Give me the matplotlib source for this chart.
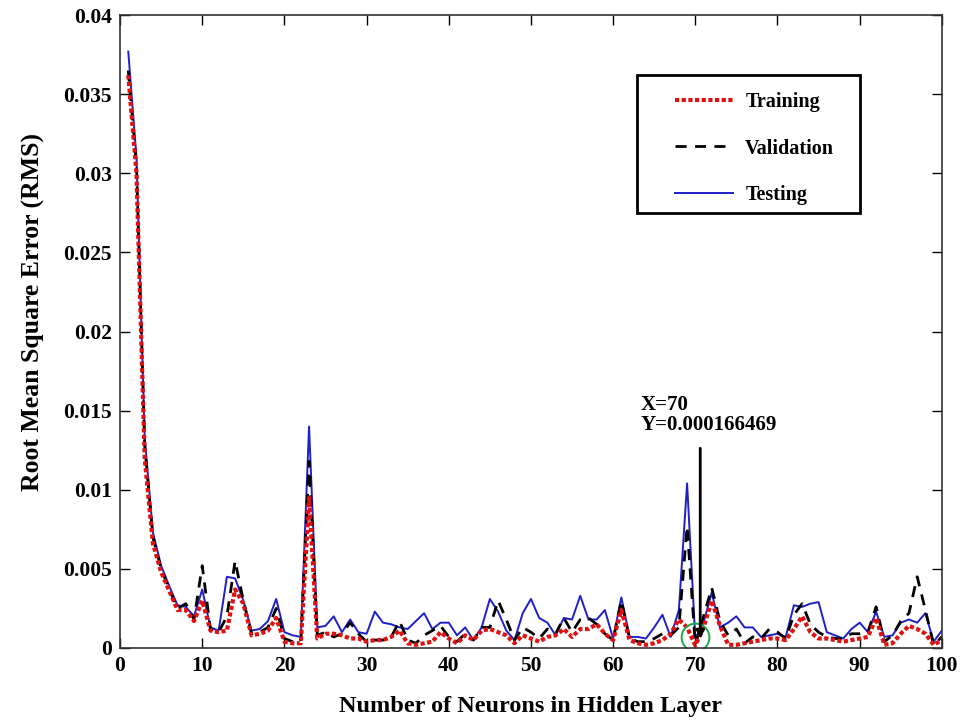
import matplotlib
matplotlib.use("Agg")
import matplotlib.pyplot as plt
from matplotlib.patches import Rectangle
import numpy as np

# RMS error vs number of hidden neurons
neurons = np.arange(1, 101)

testing = [
    0.0377, 0.0310, 0.0133, 0.0073, 0.0052, 0.0039, 0.0027, 0.0026, 0.0020, 0.0037,
    0.0013, 0.0011, 0.0045, 0.0044, 0.0030, 0.0011, 0.0012, 0.0017, 0.0031, 0.0010,
    0.0008, 0.0007, 0.0140, 0.0013, 0.0014, 0.0020, 0.0010, 0.0018, 0.0010, 0.0009,
    0.0023, 0.0016, 0.0015, 0.0013, 0.0012, 0.0017, 0.0022, 0.0012, 0.0016, 0.0016,
    0.0008, 0.0013, 0.0005, 0.0013, 0.0031, 0.0023, 0.0011, 0.0005, 0.0022, 0.0031,
    0.0019, 0.0016, 0.0008, 0.0019, 0.0018, 0.0033, 0.0018, 0.0018, 0.0024, 0.0006,
    0.0032, 0.0007, 0.0007, 0.0006, 0.0013, 0.0021, 0.0007, 0.0024, 0.0104, 0.0006,
    0.0016, 0.0035, 0.0013, 0.0016, 0.0020, 0.0013, 0.0013, 0.0007, 0.0008, 0.0009,
    0.0007, 0.0027, 0.0026, 0.0028, 0.0029, 0.0010, 0.0008, 0.0006, 0.0012, 0.0016,
    0.0010, 0.0023, 0.0007, 0.0008, 0.0016, 0.0018, 0.0016, 0.0022, 0.0004, 0.0011,
]

validation = [
    0.0365, 0.0305, 0.0128, 0.0070, 0.0050, 0.0037, 0.0025, 0.0028, 0.0018, 0.0052,
    0.0012, 0.0010, 0.0020, 0.0055, 0.0030, 0.0009, 0.0010, 0.0013, 0.0025, 0.0006,
    0.0004, 0.0004, 0.0118, 0.0008, 0.0010, 0.0007, 0.0009, 0.0016, 0.0009, 0.0004,
    0.0005, 0.0005, 0.0007, 0.0017, 0.0005, 0.0003, 0.0008, 0.0011, 0.0014, 0.0007,
    0.0004, 0.0009, 0.0005, 0.0013, 0.0013, 0.0030, 0.0018, 0.0005, 0.0013, 0.0010,
    0.0006, 0.0012, 0.0009, 0.0019, 0.0010, 0.0018, 0.0019, 0.0015, 0.0009, 0.0005,
    0.0030, 0.0006, 0.0004, 0.0004, 0.0006, 0.0009, 0.0008, 0.0013, 0.0077, 0.0002,
    0.0020, 0.0038, 0.0017, 0.0008, 0.0012, 0.0003, 0.0007, 0.0006, 0.0012, 0.0010,
    0.0006, 0.0021, 0.0028, 0.0015, 0.0010, 0.0007, 0.0006, 0.0006, 0.0009, 0.0009,
    0.0010, 0.0026, 0.0004, 0.0008, 0.0017, 0.0022, 0.0045, 0.0024, 0.0002, 0.0007,
]

training = [
    0.0362, 0.0300, 0.0120, 0.0066, 0.0048, 0.0036, 0.0024, 0.0024, 0.0017, 0.0030,
    0.0011, 0.0010, 0.0011, 0.0037, 0.0028, 0.0008, 0.0009, 0.0011, 0.0019, 0.0004,
    0.0003, 0.0003, 0.0095, 0.0006, 0.0009, 0.0009, 0.0008, 0.0006, 0.0006, 0.0004,
    0.0005, 0.0005, 0.0007, 0.0011, 0.0003, 0.0002, 0.0003, 0.0004, 0.0010, 0.0006,
    0.0003, 0.0008, 0.0005, 0.0011, 0.0012, 0.0010, 0.0008, 0.0003, 0.0008, 0.0006,
    0.0004, 0.0007, 0.0008, 0.0012, 0.0007, 0.0012, 0.0012, 0.0015, 0.0009, 0.0005,
    0.0024, 0.0005, 0.0003, 0.0002, 0.0003, 0.0005, 0.0009, 0.0018, 0.0013, 0.000166469,
    0.0013, 0.0030, 0.0014, 0.0002, 0.0002, 0.0003, 0.0004, 0.0005, 0.0006, 0.0006,
    0.0005, 0.0012, 0.0020, 0.0010, 0.0006, 0.0006, 0.0005, 0.0004, 0.0005, 0.0006,
    0.0007, 0.0019, 0.0002, 0.0003, 0.0009, 0.0014, 0.0012, 0.0009, 0.0002, 0.0005,
]

best_x = 70
best_y = 0.000166469

plt.rcParams['font.family'] = ['Liberation Serif', 'DejaVu Serif']
plt.rcParams['font.weight'] = 'bold'

fig = plt.figure(figsize=(9.76, 7.22), dpi=100)
ax = fig.add_axes([0.123, 0.1025, 0.842, 0.8765])

l_test, = ax.plot(neurons, testing, color='#1f1fc8', lw=1.4, label='Testing')
l_val, = ax.plot(neurons, validation, color='black', lw=2.0, ls=(0, (4, 3)), label='Validation')
l_train, = ax.plot(neurons, training, color='#e01010', lw=3.0, ls=(0, (1, 0.6)), label='Training')

# green circle around the minimum
ax.plot(best_x, 0.0007, 'o', ms=20, mfc='none', mec='#1aaa4a', mew=1.4)

ax.annotate('', xy=(70.6, 0.0004), xytext=(70.6, 0.0128),
            arrowprops=dict(arrowstyle='-|>', lw=2.0, color='black', mutation_scale=12))
ax.text(63.3, 0.0160, f'X={best_x}\nY={best_y}', fontsize=15, fontweight='bold',
        va='top', ha='left', linespacing=1.0)

ax.set_xlim(0, 100)
ax.set_ylim(0, 0.04)
ax.set_xticks(np.arange(0, 101, 10))
ax.set_yticks(np.arange(0, 0.0401, 0.005))
ax.set_yticklabels(['0', '0.005', '0.01', '0.015', '0.02', '0.025', '0.03', '0.035', '0.04'])
ax.tick_params(direction='in', top=True, right=True, length=7, width=1, labelsize=15.5, pad=6)
for lab in ax.get_xticklabels() + ax.get_yticklabels():
    lab.set_fontweight('bold')
for sp in ax.spines.values():
    sp.set_linewidth(1.2)
    sp.set_color('#333333')

ax.set_xlabel('Number of Neurons in Hidden Layer', fontsize=17.5, fontweight='bold', labelpad=14)
ax.set_ylabel('Root Mean Square Error (RMS)', fontsize=18.5, fontweight='bold')
ax.yaxis.set_label_coords(-0.091, 0.531)

# legend box drawn separately so the padding matches the reference
ax.add_patch(Rectangle((0.629, 0.687), 0.272, 0.218, transform=ax.transAxes,
                       fill=True, facecolor='white', edgecolor='black', lw=2.0, zorder=4))
leg = ax.legend(handles=[l_train, l_val, l_test], loc='upper left',
                bbox_to_anchor=(0.675, 0.878), frameon=False,
                fontsize=14.5, handlelength=2.9, labelspacing=1.3,
                borderpad=0, handletextpad=0.6, borderaxespad=0)
leg.set_zorder(5)
for t in leg.get_texts():
    t.set_fontweight('bold')

fig.savefig('out.png', dpi=100)
